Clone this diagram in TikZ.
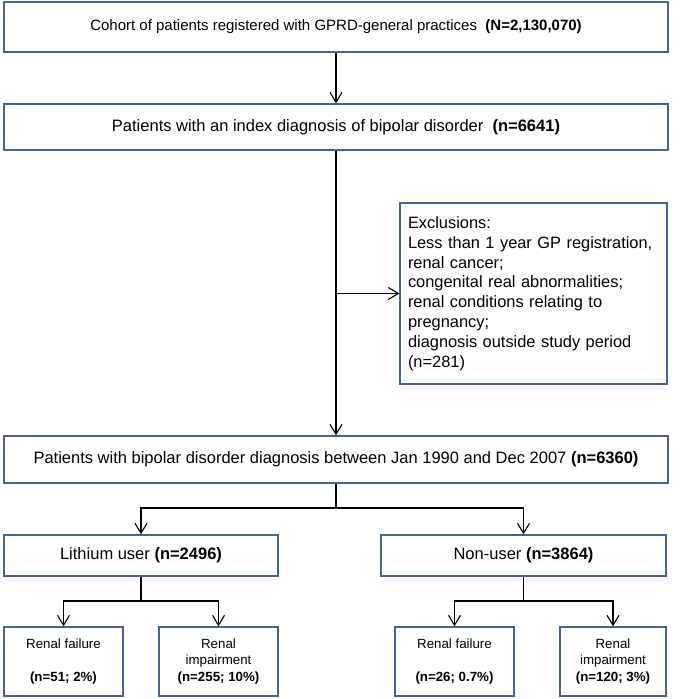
\documentclass[tikz,border=0pt]{standalone}
\usepackage{fontspec}
\setmainfont{Liberation Sans}
\usepackage{xcolor}
\usetikzlibrary{arrows.meta,positioning}
\definecolor{boxblue}{RGB}{72,101,142}

\begin{document}
\begin{tikzpicture}[x=1pt,y=-1pt]
\tikzstyle{myarrows}=[-{Straight Barb[length=10pt,width=12pt]},line width=1.1pt];
\tikzstyle{mylines}=[line width=1.1pt];
\tikzstyle{mybox}=[rectangle,draw=boxblue,line width=1.3pt,inner sep=0pt,align=center];
\tikzstyle{bigtext}=[font=\fontsize{16.5}{20}\selectfont];
\tikzstyle{smalltext}=[font=\fontsize{13.3}{16.5}\selectfont];
\useasboundingbox (0,0) rectangle (685,699);
% top of the flow
\node[mybox,minimum width=664pt,minimum height=50pt,font=\fontsize{15}{18}\selectfont](cohort) at (336,27){Cohort of patients registered with GPRD-general practices\ \ \textbf{(N=2,130,070)}};
\node[mybox,bigtext,minimum width=664pt,minimum height=46pt](index) at (336,127){Patients with an index diagnosis of bipolar disorder\ \ \textbf{(n=6641)}};
\node[mybox,minimum width=267pt,minimum height=181pt,text width=251pt,align=left,font=\fontsize{16.4}{19.8}\selectfont](excl) at (533.5,293.5){Exclusions:\\
Less than 1 year GP registration,\\
renal cancer;\\
congenital real abnormalities;\\
renal conditions relating to\\
pregnancy;\\
diagnosis outside study period\\
(n=281)};
\node[mybox,bigtext,minimum width=664pt,minimum height=47pt](bipolar) at (336,459.5){Patients with bipolar disorder diagnosis between Jan 1990 and Dec 2007 \textbf{(n=6360)}};
% lithium / non-user
\node[mybox,bigtext,minimum width=274pt,minimum height=41pt](lith) at (141,555.5){Lithium user \textbf{(n=2496)}};
\node[mybox,bigtext,minimum width=285pt,minimum height=41pt](nonuser) at (523.5,555.5){Non-user \textbf{(n=3864)}};
% outcomes
\node[mybox,smalltext,minimum width=119pt,minimum height=69pt](fail1) at (63.5,661.5){Renal failure\\[16.5pt]\textbf{(n=51; 2\%)}};
\node[mybox,smalltext,minimum width=119pt,minimum height=69pt](imp1) at (218.5,661.5){Renal\\impairment\\\textbf{(n=255; 10\%)}};
\node[mybox,smalltext,minimum width=119pt,minimum height=69pt](fail2) at (454.5,661.5){Renal failure\\[16.5pt]\textbf{(n=26; 0.7\%)}};
\node[mybox,smalltext,minimum width=106pt,minimum height=69pt](imp2) at (613,661.5){Renal\\impairment\\\textbf{(n=120; 3\%)}};
% connectors
\draw [myarrows] (cohort) -- (index);
\draw [myarrows] (index) -- (bipolar);
\draw [myarrows] (index.south |- excl.west) -- (excl.west);
\coordinate (split) at (336,508);
\draw [mylines] (bipolar.south) -- (split);
\draw [myarrows] (split) -| (lith.north);
\draw [myarrows] (split) -| (nonuser.north);
\coordinate (split1) at (141,601);
\draw [mylines] (lith.south) -- (split1);
\draw [myarrows] (split1) -| (fail1.north);
\draw [myarrows] (split1) -| (imp1.north);
\coordinate (split2) at (523.5,601);
\draw [mylines] (nonuser.south) -- (split2);
\draw [myarrows] (split2) -| (fail2.north);
\draw [myarrows] (split2) -| (imp2.north);
\end{tikzpicture}
\end{document}
